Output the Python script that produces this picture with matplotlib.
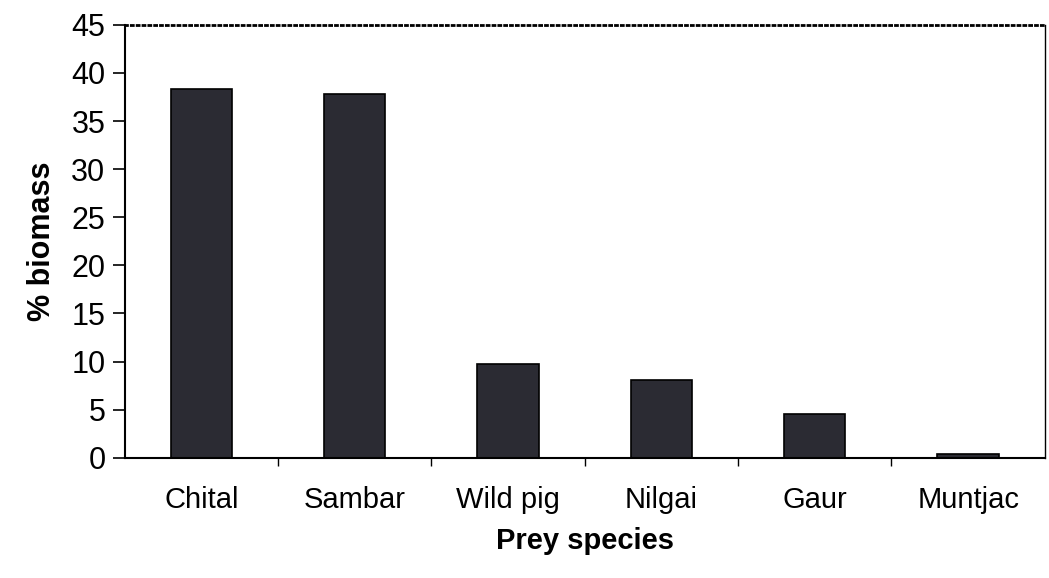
import matplotlib.pyplot as plt
import numpy as np

# prey biomass data
species = ["Chital", "Sambar", "Wild pig", "Nilgai", "Gaur", "Muntjac"]
biomass = [38.3, 37.8, 9.7, 8.1, 4.5, 0.4]
y_ticks = [0, 5, 10, 15, 20, 25, 30, 35, 40, 45]

plt.rcParams['font.family'] = ['Liberation Sans', 'DejaVu Sans']

fig = plt.figure(figsize=(10.49, 5.78), dpi=100)
ax = fig.add_axes([0.119, 0.208, 0.877, 0.749])

x = np.arange(len(species))
ax.bar(x, biomass, width=0.4, color='#2b2b33', edgecolor='black', linewidth=1.2)

ax.set_xlim(-0.5, len(species) - 0.5)
ax.set_ylim(0, 45)
ax.set_yticks(y_ticks)
ax.set_yticklabels([str(v) for v in y_ticks], fontsize=22)
ax.tick_params(axis='y', direction='out', length=9, width=1.2, pad=5)

# category labels centred, small separator ticks between categories
ax.set_xticks(x)
ax.set_xticklabels(species, fontsize=21)
ax.tick_params(axis='x', which='major', length=0, pad=20)
ax.set_xticks(x[:-1] + 0.5, minor=True)
ax.tick_params(axis='x', which='minor', direction='out', length=6, width=1)

ax.set_xlabel("Prey species", fontsize=21, fontweight='bold', labelpad=10)
ax.set_ylabel("% biomass", fontsize=22, fontweight='bold', labelpad=10)

ax.spines['left'].set_linewidth(1.5)
ax.spines['bottom'].set_linewidth(1.5)
ax.spines['top'].set_linestyle((0, (0.7, 1.4)))
ax.spines['top'].set_linewidth(2)
ax.spines['right'].set_linewidth(1)

fig.savefig("out.png", dpi=100)
